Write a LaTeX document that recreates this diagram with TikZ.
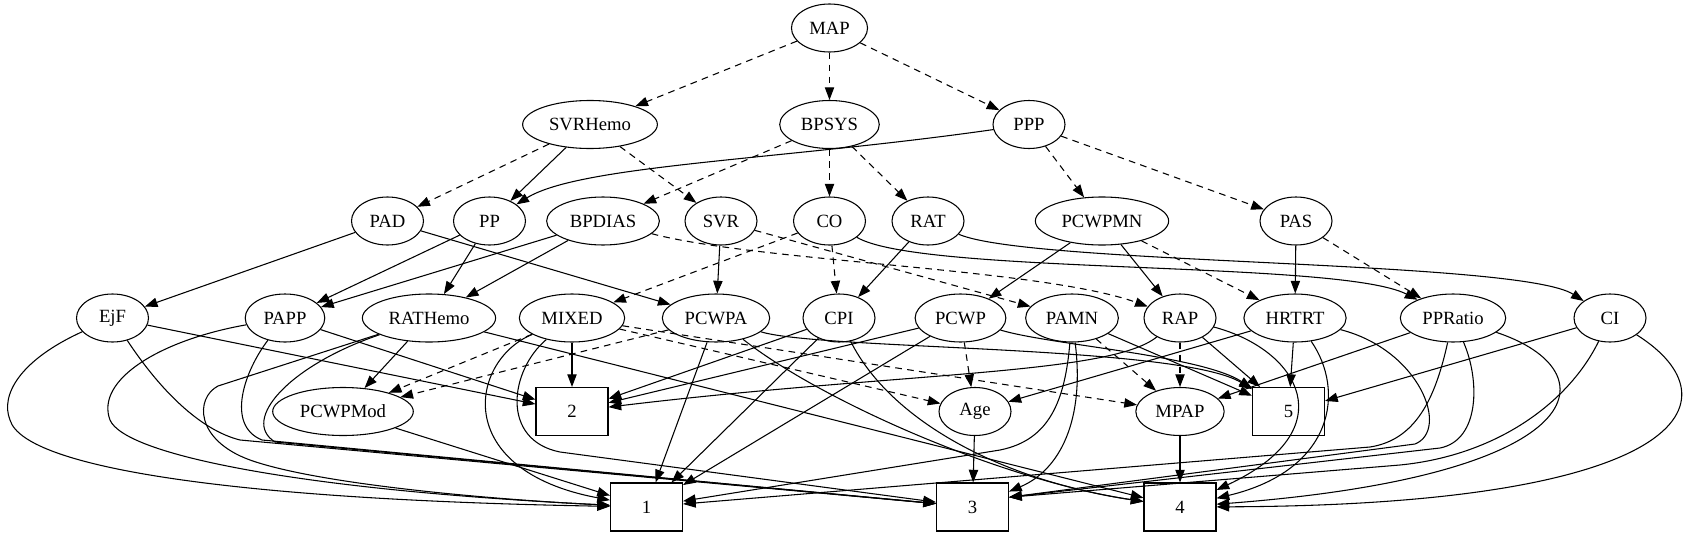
\documentclass[tikz,border=0pt]{standalone}
\usepackage{fontspec}
\setmainfont{Liberation Serif}
\usetikzlibrary{arrows.meta, shapes.geometric}

\begin{document}
\begin{tikzpicture}[
  x=0.75pt, y=-0.75pt,
  var/.style={
    draw, ellipse, line width=0.8pt, inner xsep=5pt, inner ysep=2pt,
    minimum width=54pt, minimum height=36pt,
    font=\fontsize{14}{16}\selectfont
  },
  leaf/.style={
    draw, rectangle, line width=0.8pt,
    minimum width=54pt, minimum height=36pt,
    font=\fontsize{14}{16}\selectfont
  },
  arr/.style={-{Triangle[length=9.5pt, width=7pt]}, line width=0.8pt},
  darr/.style={arr, dash pattern=on 5pt off 4pt}
]
  \useasboundingbox (0,0) rectangle (1698,539);

  % top ranks
  \node[var] (MAP) at (829.5,28) {MAP};
  \node[var] (SVRHemo) at (590,124.5) {SVRHemo};
  \node[var] (BPSYS) at (829.5,124.5) {BPSYS};
  \node[var] (PPP) at (1029,124.5) {PPP};

  \node[var] (PAD) at (387.5,221) {PAD};
  \node[var] (PP) at (489.5,221) {PP};
  \node[var] (BPDIAS) at (603,221) {BPDIAS};
  \node[var] (SVR) at (721,221) {SVR};
  \node[var] (CO) at (829.5,221) {CO};
  \node[var] (RAT) at (928,221) {RAT};
  \node[var] (PCWPMN) at (1102,221) {PCWPMN};
  \node[var] (PAS) at (1296,221) {PAS};

  \node[var] (EjF) at (112.5,318) {EjF};
  \node[var] (PAPP) at (285,318) {PAPP};
  \node[var] (RATHemo) at (429,318) {RATHemo};
  \node[var] (MIXED) at (572,318) {MIXED};
  \node[var] (PCWPA) at (716,318) {PCWPA};
  \node[var] (CPI) at (839,318) {CPI};
  \node[var] (PCWP) at (960.5,318) {PCWP};
  \node[var] (PAMN) at (1072,318) {PAMN};
  \node[var] (RAP) at (1180,318) {RAP};
  \node[var] (HRTRT) at (1295,318) {HRTRT};
  \node[var] (PPRatio) at (1453,318) {PPRatio};
  \node[var] (CI) at (1610,318) {CI};

  \node[var] (PCWPMod) at (343,411.5) {PCWPMod};
  \node[leaf] (n2) at (572,411.5) {2};
  \node[var] (Age) at (975,411.5) {Age};
  \node[var] (MPAP) at (1180,411.5) {MPAP};
  \node[leaf] (n5) at (1288.5,411.5) {5};

  \node[leaf] (n1) at (646.5,507) {1};
  \node[leaf] (n3) at (972.5,507) {3};
  \node[leaf] (n4) at (1180,507) {4};

  % upper edges
  \draw[darr] (MAP) -- (SVRHemo);
  \draw[darr] (MAP) -- (BPSYS);
  \draw[darr] (MAP) -- (PPP);
  \draw[darr] (SVRHemo) -- (PAD);
  \draw[arr] (SVRHemo) -- (PP);
  \draw[darr] (SVRHemo) -- (SVR);
  \draw[darr] (BPSYS) -- (BPDIAS);
  \draw[darr] (BPSYS) -- (CO);
  \draw[darr] (BPSYS) -- (RAT);
  \draw[arr] (PPP) .. controls (780,160) and (580,165) .. (PP);
  \draw[darr] (PPP) -- (PCWPMN);
  \draw[darr] (PPP) -- (PAS);

  \draw[arr] (PAD) -- (EjF);
  \draw[arr] (PAD) -- (PCWPA);
  \draw[arr] (PP) -- (PAPP);
  \draw[arr] (PP) -- (RATHemo);
  \draw[arr] (BPDIAS) -- (PAPP);
  \draw[arr] (BPDIAS) -- (RATHemo);
  \draw[darr] (BPDIAS) .. controls (760,262) and (1040,268) .. (RAP);
  \draw[arr] (SVR) -- (PCWPA);
  \draw[darr] (SVR) -- (PAMN);
  \draw[darr] (CO) -- (MIXED);
  \draw[darr] (CO) -- (CPI);
  \draw[arr] (CO) .. controls (920,275) and (1340,260) .. (PPRatio);
  \draw[arr] (RAT) -- (CPI);
  \draw[arr] (RAT) .. controls (1030,265) and (1520,260) .. (CI);
  \draw[arr] (PCWPMN) -- (PCWP);
  \draw[arr] (PCWPMN) -- (RAP);
  \draw[darr] (PCWPMN) -- (HRTRT);
  \draw[arr] (PAS) -- (HRTRT);
  \draw[darr] (PAS) -- (PPRatio);

  % left part of the lower edges
  \draw[arr] (EjF) -- (n2);
  \draw[arr] (EjF) .. controls (20,360) and (0,395) .. (10,420)
    .. controls (25,470) and (250,500) .. (n1);
  \draw[arr] (EjF) .. controls (160,390) and (200,430) .. (240,440) -- (n3);
  \draw[arr] (PAPP) -- (n2);
  \draw[arr] (PAPP) .. controls (160,340) and (95,380) .. (110,420)
    .. controls (125,455) and (300,490) .. (n1);
  \draw[arr] (PAPP) .. controls (245,370) and (225,425) .. (262,440) -- (n3);
  \draw[arr] (RATHemo) -- (PCWPMod);
  \draw[arr] (RATHemo) -- (n4);
  \draw[arr] (RATHemo) -- (218,386) .. controls (195,398) and (195,440) .. (250,460)
    .. controls (320,485) and (500,500) .. (n1);
  \draw[arr] (RATHemo) .. controls (290,365) and (240,420) .. (275,442) -- (n3);
  \draw[arr] (MIXED) -- (n2);
  \draw[darr] (MIXED) -- (PCWPMod);
  \draw[darr] (MIXED) -- (Age);
  \draw[darr] (MIXED) -- (MPAP);
  \draw[arr] (MIXED) .. controls (470,360) and (450,470) .. (n1);
  \draw[arr] (MIXED) .. controls (510,370) and (500,440) .. (560,452) -- (n3);
  \draw[arr] (PCWPMod) -- (n1);

  % middle part
  \draw[darr] (PCWPA) -- (PCWPMod);
  \draw[arr] (PCWPA) -- (n1);
  \draw[arr] (PCWPA) .. controls (820,400) and (1000,480) .. (n4);
  \draw[arr] (PCWPA) .. controls (820,350) and (1180,345) .. (n5);
  \draw[arr] (CPI) -- (n2);
  \draw[arr] (CPI) -- (n1);
  \draw[arr] (CPI) .. controls (890,420) and (1000,480) .. (n4);
  \draw[arr] (PCWP) -- (n2);
  \draw[arr] (PCWP) -- (n1);
  \draw[darr] (PCWP) -- (Age);
  \draw[arr] (PCWP) .. controls (1050,345) and (1200,355) .. (n5);
  \draw[darr] (PAMN) -- (MPAP);
  \draw[arr] (PAMN) -- (n5);
  \draw[arr] (PAMN) .. controls (1065,400) and (1050,440) .. (1000,450) -- (n1);
  \draw[arr] (PAMN) .. controls (1085,420) and (1060,470) .. (n3);
  \draw[arr] (Age) -- (n3);
  \draw[arr] (MPAP) -- (n4);

  % right part
  \draw[arr] (RAP) .. controls (1110,375) and (900,372) .. (n2);
  \draw[darr] (RAP) -- (MPAP);
  \draw[arr] (RAP) -- (n5);
  \draw[arr] (RAP) .. controls (1300,350) and (1345,430) .. (n4);
  \draw[arr] (HRTRT) -- (Age);
  \draw[arr] (HRTRT) -- (n5);
  \draw[arr] (HRTRT) .. controls (1345,390) and (1335,470) .. (n4);
  \draw[arr] (HRTRT) .. controls (1420,350) and (1450,430) .. (1415,444) -- (n3.15);
  \draw[arr] (PPRatio) -- (MPAP);
  \draw[arr] (PPRatio) .. controls (1435,400) and (1415,440) .. (1370,447) -- (n1);
  \draw[arr] (PPRatio) .. controls (1480,380) and (1480,440) .. (1440,448) -- (n3.15);
  \draw[arr] (PPRatio) .. controls (1610,370) and (1600,475) .. (n4);
  \draw[arr] (CI) -- (n5);
  \draw[arr] (CI) .. controls (1570,400) and (1500,455) .. (1400,465) -- (n3.15);
  \draw[arr] (CI) .. controls (1740,400) and (1690,505) .. (n4);

\end{tikzpicture}
\end{document}
